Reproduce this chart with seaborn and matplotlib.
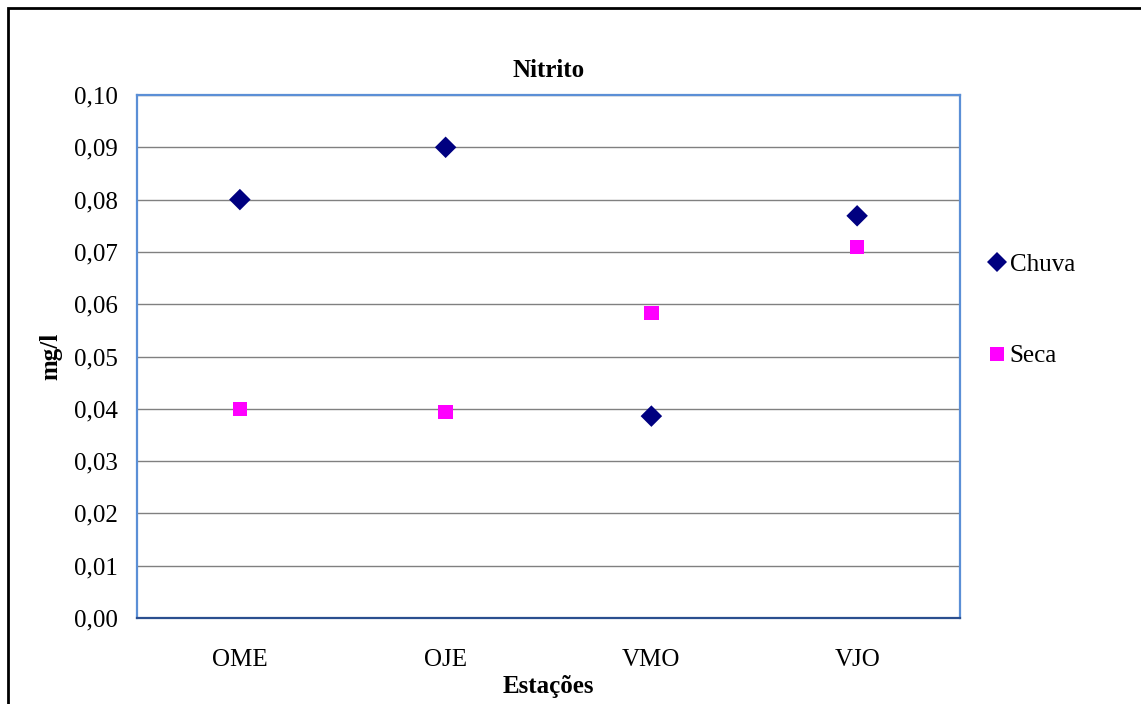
import numpy as np
import pandas as pd
import matplotlib as mpl
import matplotlib.pyplot as plt
import matplotlib.ticker as ticker
from matplotlib.patches import Rectangle
import seaborn as sns

# data
estacoes = ['OME', 'OJE', 'VMO', 'VJO']
chuva = [0.080, 0.090, 0.0386, 0.0769]
seca = [0.040, 0.0394, 0.0583, 0.0709]

df = pd.DataFrame({
    'Estações': estacoes * 2,
    'mg/l': chuva + seca,
    'Período': ['Chuva'] * len(estacoes) + ['Seca'] * len(estacoes),
})

sns.set_style('white')
mpl.rcParams['font.family'] = ['Liberation Serif', 'DejaVu Serif']
fs = 18
mpl.rcParams['font.size'] = fs
mpl.rcParams['text.color'] = 'black'
mpl.rcParams['axes.labelcolor'] = 'black'
mpl.rcParams['xtick.labelcolor'] = 'black'
mpl.rcParams['ytick.labelcolor'] = 'black'

fig = plt.figure(figsize=(11.41, 7.04), dpi=100)
ax = fig.add_axes([137 / 1141, 1 - 618 / 704, 823 / 1141, 523 / 704])

# outer chart border
fig.patches.append(Rectangle((7.5 / 1141, -0.05), 1.2, 1 - 7.5 / 704 + 0.05,
                             transform=fig.transFigure, fill=False,
                             edgecolor='black', linewidth=2, zorder=0))

sns.scatterplot(data=df, x='Estações', y='mg/l', hue='Período', style='Período',
                markers={'Chuva': 'D', 'Seca': 's'},
                palette={'Chuva': '#000080', 'Seca': '#FF00FF'},
                size='Período', sizes={'Chuva': 120, 'Seca': 110},
                linewidth=0, ax=ax, zorder=3, legend=True)

ax.set_xlim(-0.5, len(estacoes) - 0.5)
ax.set_ylim(0, 0.10)
ax.yaxis.set_major_locator(ticker.MultipleLocator(0.01))
ax.yaxis.set_major_formatter(ticker.FuncFormatter(lambda v, p: f'{v:.2f}'.replace('.', ',')))
ax.set_xticks(range(len(estacoes)))
ax.set_xticklabels(estacoes)
ax.set_xticks(np.arange(-0.5, len(estacoes)), minor=True)
ax.tick_params(axis='x', which='major', length=0, pad=22, labelsize=fs, labelcolor='black')
ax.tick_params(axis='x', which='minor', length=6, width=1, color='#444444', direction='out')
ax.tick_params(axis='y', length=7, width=1, color='#444444', direction='out', pad=7,
               labelsize=fs, labelcolor='black')

ax.yaxis.grid(True, color='#808080', linewidth=1)
ax.set_axisbelow(True)
for s in ax.spines.values():
    s.set_color('#5B8FD6')
    s.set_linewidth(1.6)
ax.spines['bottom'].set_color('#2B4F8F')

ax.set_title('Nitrito', fontweight='bold', fontsize=fs, pad=13, color='black')
ax.set_xlabel('Estações', fontweight='bold', fontsize=fs, labelpad=3, color='black')
ax.set_ylabel('mg/l', fontweight='bold', fontsize=fs, labelpad=8, color='black')

h, l = ax.get_legend_handles_labels()
leg = ax.legend(h, l, loc='center left', bbox_to_anchor=(1.004, 0.588), frameon=False,
                labelspacing=2.75, handletextpad=0.05, handlelength=0.9, fontsize=fs,
                markerscale=0.9)
for t in leg.get_texts():
    t.set_color('black')

plt.savefig('out.png', dpi=100)
